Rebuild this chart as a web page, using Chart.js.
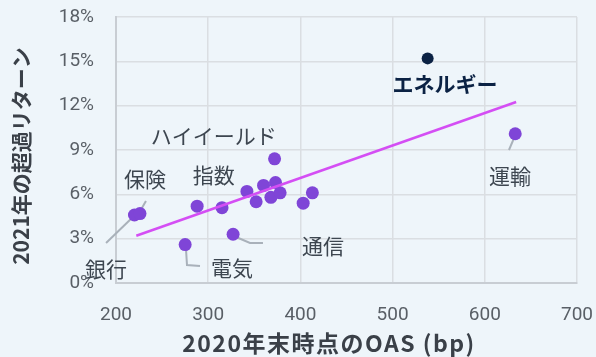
<!DOCTYPE html>
<html lang="ja">
<head>
    <meta charset="UTF-8">
    <title>OAS vs 超過リターン</title>
    <script src="https://cdn.jsdelivr.net/npm/chart.js"></script>
    <style>
        html, body {
            margin: 0;
            padding: 0;
            background: #eef5fa;
            overflow: hidden;
        }

        #chart-container {
            width: 596px;
            height: 357px;
        }
    </style>
</head>
<body>
    <div id="chart-container">
        <canvas id="oasChart" width="596" height="357"></canvas>
    </div>

    <script>
        // セクター別（2020年末OAS, 2021年超過リターン%）
        const sectorOas = [220, 226, 275, 288, 315, 327, 342, 352, 360, 368, 372, 373, 378, 403, 413, 633];
        const sectorReturn = [4.6, 4.7, 2.6, 5.2, 5.1, 3.3, 6.2, 5.5, 6.6, 5.8, 8.4, 6.8, 6.1, 5.4, 6.1, 10.1];

        const energyOas = [538];
        const energyReturn = [15.2];

        // 近似線の両端
        const trendOas = [222, 634];
        const trendReturn = [3.2, 12.25];

        const xTicks = [200, 300, 400, 500, 600, 700];
        const yTicks = [0, 3, 6, 9, 12, 15, 18];

        const xTitle = '2020年末時点のOAS (bp)';
        const yTitle = '2021年の超過リターン';

        // ラベル（データ座標）と引き出し線
        const labels = [
            { text: 'ハイイールド', x: 306, y: 9.95 },
            { text: '指数', x: 306, y: 7.31 },
            { text: '保険', x: 231.5, y: 7.04, line: [[232.5, 5.55], [225, 4.74]] },
            { text: '銀行', x: 189.2, y: 0.95, line: [[189.2, 2.71], [219.5, 4.53]] },
            { text: '電気', x: 325.8, y: 1.01, line: [[275.9, 2.3], [277, 1.22], [291.1, 1.15]] },
            { text: '通信', x: 424.5, y: 2.5, line: [[330.2, 3.11], [345.3, 2.71], [359.4, 2.71]] },
            { text: '運輸', x: 627.3, y: 7.24, line: [[631.7, 9.81], [626.2, 9.0]] },
            { text: 'エネルギー', x: 556.8, y: 13.46, bold: true, color: '#0b2244' }
        ];

        const toPoints = (xs, ys) => xs.map((x, i) => ({ x: x, y: ys[i] }));

        const labelPlugin = {
            id: 'labelPlugin',
            beforeDraw(chart) {
                const ctx = chart.ctx;
                ctx.save();
                ctx.fillStyle = '#eef5fa';
                ctx.fillRect(0, 0, chart.width, chart.height);
                ctx.restore();
            },
            beforeDatasetsDraw(chart) {
                const ctx = chart.ctx;
                const xs = chart.scales.x;
                const ys = chart.scales.y;
                ctx.save();
                ctx.strokeStyle = '#a9b1ba';
                ctx.lineWidth = 2;
                labels.forEach(l => {
                    if (!l.line) return;
                    ctx.beginPath();
                    l.line.forEach((p, i) => {
                        const px = xs.getPixelForValue(p[0]);
                        const py = ys.getPixelForValue(p[1]);
                        if (i === 0) ctx.moveTo(px, py); else ctx.lineTo(px, py);
                    });
                    ctx.stroke();
                });
                ctx.restore();
            },
            afterDraw(chart) {
                const ctx = chart.ctx;
                const xs = chart.scales.x;
                const ys = chart.scales.y;
                const area = chart.chartArea;

                ctx.save();
                ctx.textAlign = 'center';
                ctx.textBaseline = 'middle';
                labels.forEach(l => {
                    ctx.font = (l.bold ? 'bold ' : '') + '21px "Noto Sans CJK JP"';
                    ctx.fillStyle = l.color || '#3d4650';
                    ctx.fillText(l.text, xs.getPixelForValue(l.x), ys.getPixelForValue(l.y));
                });

                // 軸タイトル
                ctx.fillStyle = '#3a4048';
                ctx.font = 'bold 23px "Noto Sans CJK JP"';
                ctx.letterSpacing = '1.5px';
                ctx.fillText(xTitle, 329, 343);

                ctx.font = 'bold 21px "Noto Sans CJK JP"';
                ctx.letterSpacing = '0px';
                ctx.translate(21, (area.top + area.bottom) / 2 + 6);
                ctx.rotate(-Math.PI / 2);
                ctx.fillText(yTitle, 0, 0);
                ctx.restore();
            }
        };

        new Chart(document.getElementById('oasChart').getContext('2d'), {
            type: 'scatter',
            data: {
                datasets: [
                    {
                        label: '近似線',
                        data: toPoints(trendOas, trendReturn),
                        showLine: true,
                        borderColor: '#d44ef4',
                        borderWidth: 2.5,
                        pointRadius: 0,
                        order: 0
                    },
                    {
                        label: 'セクター',
                        data: toPoints(sectorOas, sectorReturn),
                        backgroundColor: '#7f45d7',
                        borderWidth: 0,
                        pointRadius: 6.5,
                        order: 1
                    },
                    {
                        label: 'エネルギー',
                        data: toPoints(energyOas, energyReturn),
                        backgroundColor: '#0b2244',
                        borderWidth: 0,
                        pointRadius: 6,
                        order: 1
                    }
                ]
            },
            options: {
                responsive: false,
                animation: false,
                devicePixelRatio: 1,
                layout: {
                    padding: { top: 17, right: 19, left: 0, bottom: 0 }
                },
                plugins: {
                    legend: { display: false },
                    tooltip: { enabled: false }
                },
                scales: {
                    x: {
                        min: xTicks[0],
                        max: xTicks[xTicks.length - 1],
                        afterBuildTicks: scale => { scale.ticks = xTicks.map(v => ({ value: v })); },
                        afterFit: scale => {
                            scale.height = 74;
                            scale.paddingLeft = 0;
                            scale.paddingRight = 0;
                        },
                        grid: { color: '#dadee2', lineWidth: 1.5, drawTicks: false },
                        border: { color: '#c8cdd3', width: 2 },
                        ticks: {
                            padding: 21,
                            maxRotation: 0,
                            minRotation: 0,
                            autoSkip: false,
                            color: '#595f66',
                            font: { family: 'Roboto', size: 19 }
                        }
                    },
                    y: {
                        min: yTicks[0],
                        max: yTicks[yTicks.length - 1],
                        afterBuildTicks: scale => { scale.ticks = yTicks.map(v => ({ value: v })); },
                        afterFit: scale => {
                            scale.width = 116;
                            scale.paddingTop = 0;
                            scale.paddingBottom = 0;
                        },
                        grid: { color: '#dadee2', lineWidth: 1.5, drawTicks: false },
                        border: { color: '#c8cdd3', width: 2 },
                        ticks: {
                            padding: 22,
                            autoSkip: false,
                            color: '#595f66',
                            font: { family: 'Roboto', size: 19 },
                            callback: v => v + '%'
                        }
                    }
                }
            },
            plugins: [labelPlugin]
        });
    </script>
</body>
</html>
